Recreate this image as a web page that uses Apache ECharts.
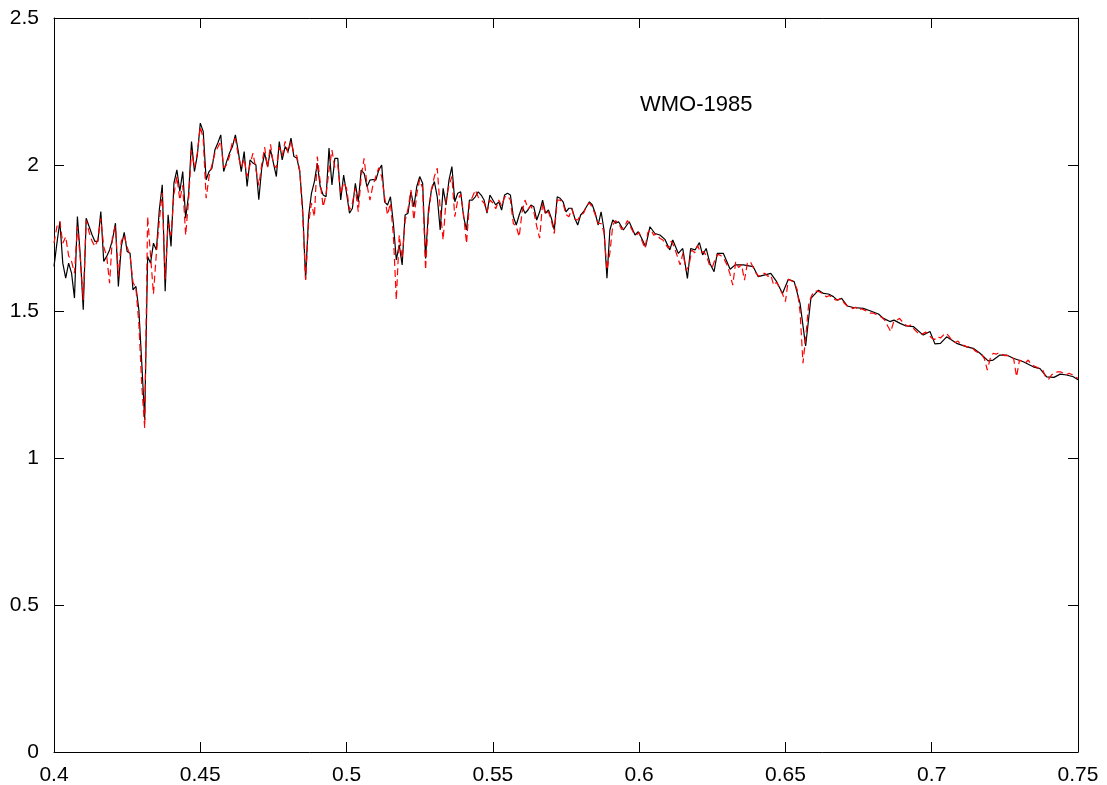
<!DOCTYPE html>
<html>
<head>
<meta charset="utf-8">
<title>WMO-1985</title>
<script src="https://cdn.jsdelivr.net/npm/echarts@6/dist/echarts.min.js"></script>
<style>
  html, body { margin: 0; padding: 0; background: #fff; }
  #chart { width: 1107px; height: 785px; }
</style>
</head>
<body>
<div id="chart"></div>
<script>
// Spectral irradiance, wavelength in nm (plotted in micrometres)

// Solid black spectrum: 1 nm steps from 400 nm to 593 nm
const blackStartNm = 400;
const blackValues = [
  1.654, 1.733, 1.807, 1.665, 1.614, 1.665, 1.631, 1.546, 1.824, 1.688,
  1.506, 1.818, 1.790, 1.762, 1.739, 1.739, 1.841, 1.671, 1.688, 1.710,
  1.745, 1.801, 1.586, 1.722, 1.770, 1.705, 1.699, 1.574, 1.586, 1.506,
  1.324, 1.131, 1.688, 1.665, 1.733, 1.710, 1.847, 1.932, 1.569, 1.830,
  1.722, 1.938, 1.983, 1.909, 1.977, 1.818, 1.898, 2.079, 1.977, 2.034,
  2.142, 2.114, 1.949, 1.977, 1.989, 2.051, 2.074, 2.102, 1.977, 2.011,
  2.040, 2.062, 2.102, 2.045, 1.977, 2.045, 1.926, 2.017, 2.006, 2.000,
  1.881, 1.989, 2.040, 1.994, 2.051, 2.006, 1.960, 2.079, 2.017, 2.062,
  2.045, 2.091, 2.028, 2.023, 1.977, 1.847,
  1.610, 1.823, 1.903, 1.943, 2.005, 1.925, 1.897, 1.891, 2.057, 1.931,
  2.022, 2.022, 1.880, 1.965, 1.903, 1.835, 1.852, 1.937, 1.874, 1.982,
  1.971, 1.925, 1.948, 1.950, 1.948, 1.982, 1.999, 1.874, 1.863, 1.891,
  1.800, 1.676, 1.727, 1.659, 1.829, 1.835, 1.908, 1.857, 1.926, 1.960,
  1.937, 1.681, 1.846, 1.914, 1.943, 1.891, 1.778, 1.920, 1.863, 1.948,
  1.994, 1.874, 1.903, 1.908, 1.823, 1.778, 1.880, 1.880, 1.891, 1.908,
  1.897, 1.880, 1.835, 1.897, 1.880, 1.863, 1.874, 1.846, 1.897, 1.903,
  1.897, 1.823, 1.795, 1.829, 1.857, 1.835, 1.846, 1.863, 1.857, 1.812,
  1.840, 1.880, 1.835, 1.846, 1.818, 1.778, 1.891, 1.886, 1.874, 1.840,
  1.852, 1.852, 1.818, 1.795, 1.829, 1.840, 1.857, 1.874, 1.863, 1.835,
  1.795, 1.840, 1.778, 1.614, 1.778, 1.812, 1.801, 1.806
];

// Solid black spectrum beyond 593 nm (coarser sampling)
const blackTailNm = [
  594.6, 596.6, 598.6, 599.7, 600.9, 602.2, 603.7, 605.4, 607.1, 608.8,
  610.5, 611.5, 613.4, 614.9, 616.5, 617.6, 619.1, 620.6, 621.7, 622.9,
  624.2, 625.6, 626.7, 628.8, 631.1, 632.8, 635.6, 639.0, 640.7, 643.0,
  645.0, 647.0, 649.0, 651.0, 653.0, 655.0, 656.9, 658.7, 661.3, 663.0,
  664.7, 666.4, 667.7, 669.2, 671.2, 673.2, 676.6, 678.9, 681.8, 683.5,
  685.7, 687.1, 689.2, 691.2, 693.7, 697.1, 699.4, 701.1, 703.0, 705.1,
  706.8, 708.5, 712.0, 714.2, 716.5, 719.3, 721.0, 723.3, 725.6, 727.9,
  731.3, 734.7, 737.0, 739.3, 741.8, 743.9, 746.1, 748.4, 750.0
];
const blackTailValues = [
  1.778, 1.806, 1.761, 1.772, 1.749, 1.721, 1.789, 1.766, 1.761, 1.746,
  1.710, 1.744, 1.698, 1.715, 1.613, 1.715, 1.710, 1.735, 1.693, 1.715,
  1.664, 1.636, 1.698, 1.698, 1.644, 1.659, 1.659, 1.653, 1.619, 1.625,
  1.630, 1.602, 1.562, 1.610, 1.602, 1.528, 1.383, 1.545, 1.573, 1.562,
  1.560, 1.551, 1.539, 1.545, 1.519, 1.514, 1.511, 1.503, 1.492, 1.477,
  1.466, 1.471, 1.460, 1.451, 1.449, 1.420, 1.432, 1.390, 1.392, 1.414,
  1.403, 1.392, 1.380, 1.375, 1.358, 1.332, 1.335, 1.352, 1.352, 1.341,
  1.329, 1.312, 1.306, 1.278, 1.276, 1.287, 1.284, 1.278, 1.268
];

// Dashed red spectrum: 1 nm steps from 400 nm to 750 nm
const redStartNm = 400;
const redValues = [
  1.733, 1.790, 1.807, 1.733, 1.755, 1.690, 1.671, 1.631, 1.790, 1.680,
  1.540, 1.810, 1.770, 1.740, 1.722, 1.745, 1.818, 1.720, 1.690, 1.597,
  1.760, 1.790, 1.620, 1.740, 1.760, 1.720, 1.690, 1.600, 1.580, 1.460,
  1.250, 1.103, 1.824, 1.690, 1.560, 1.700, 1.810, 1.905, 1.610, 1.800,
  1.760, 1.900, 1.960, 1.880, 1.930, 1.760, 1.880, 2.050, 1.990, 2.040,
  2.130, 2.090, 1.886, 1.960, 2.000, 2.040, 2.060, 2.080, 1.990, 2.000,
  2.030, 2.080, 2.090, 2.030, 1.990, 2.020, 1.960, 2.000, 2.040, 1.985,
  1.930, 2.000, 2.060, 1.990, 2.070, 2.000, 1.990, 2.060, 2.030, 2.080,
  2.040, 2.080, 2.040, 2.030, 1.980, 1.830,
  1.608, 1.800, 1.870, 1.823, 2.028, 1.940, 1.857, 1.900, 1.980, 2.050,
  1.990, 2.000, 1.900, 1.940, 1.920, 1.846, 1.870, 1.920, 1.840, 1.960,
  2.022, 1.930, 1.880, 1.930, 1.960, 1.990, 1.960, 1.890, 1.829, 1.870,
  1.760, 1.539, 1.760, 1.680, 1.810, 1.850, 1.914, 1.812, 1.900, 1.950,
  1.920, 1.642, 1.830, 1.914, 1.960, 1.988, 1.850, 1.744, 1.880, 1.930,
  1.960, 1.823, 1.880, 1.900, 1.830, 1.732, 1.870, 1.890, 1.914, 1.890,
  1.880, 1.870, 1.840, 1.880, 1.870, 1.850, 1.880, 1.860, 1.890, 1.895,
  1.880, 1.800, 1.790, 1.755, 1.840, 1.880, 1.850, 1.860, 1.840, 1.790,
  1.750, 1.870, 1.830, 1.840, 1.810, 1.766, 1.880, 1.880, 1.870, 1.830,
  1.823, 1.850, 1.815, 1.812, 1.830, 1.835, 1.860, 1.870, 1.855, 1.830,
  1.800, 1.800, 1.770, 1.642, 1.700, 1.795, 1.810, 1.800,
  1.780, 1.790, 1.810, 1.790, 1.770, 1.760, 1.770, 1.740, 1.715, 1.770,
  1.780, 1.760, 1.765, 1.750, 1.745, 1.730, 1.715, 1.740, 1.720, 1.690,
  1.659, 1.700, 1.640, 1.655, 1.710, 1.700, 1.725, 1.700, 1.705, 1.690,
  1.660, 1.650, 1.680, 1.695, 1.690, 1.680, 1.660, 1.630, 1.590, 1.670,
  1.650, 1.660, 1.607, 1.665, 1.670, 1.650, 1.630, 1.620, 1.630, 1.630,
  1.620, 1.625, 1.590, 1.600, 1.580, 1.560, 1.534, 1.610, 1.605, 1.600,
  1.575, 1.500, 1.324, 1.420, 1.530, 1.555, 1.570, 1.570, 1.565, 1.560,
  1.550, 1.555, 1.548, 1.540, 1.540, 1.545, 1.530, 1.520, 1.520, 1.510,
  1.515, 1.505, 1.510, 1.505, 1.500, 1.495, 1.495, 1.490, 1.485, 1.480,
  1.470, 1.450, 1.432, 1.465, 1.470, 1.477, 1.465, 1.455, 1.450, 1.455,
  1.440, 1.430, 1.420, 1.425, 1.430, 1.420, 1.410, 1.405, 1.415, 1.410,
  1.420, 1.426, 1.415, 1.400, 1.395, 1.400, 1.385, 1.385, 1.380, 1.380,
  1.375, 1.365, 1.360, 1.355, 1.340, 1.301, 1.340, 1.358, 1.355, 1.360,
  1.355, 1.350, 1.350, 1.345, 1.340, 1.278, 1.335, 1.330, 1.325, 1.335,
  1.320, 1.315, 1.310, 1.305, 1.300, 1.275, 1.270, 1.285, 1.290, 1.295,
  1.295, 1.290, 1.285, 1.290, 1.285, 1.280, 1.272
];

const annotationText = 'WMO-1985';

// Build [wavelength in micrometres, value] pairs
const blackData = blackValues.map((v, i) => [(blackStartNm + i) / 1000, v])
  .concat(blackTailNm.map((nm, i) => [nm / 1000, blackTailValues[i]]));
const redData = redValues.map((v, i) => [(redStartNm + i) / 1000, v]);

const FONT = 'Liberation Sans, Arial, sans-serif';

function axisBase(min, max, interval, position, showLabels, margin) {
  return {
    type: 'value',
    min: min, max: max, interval: interval,
    position: position,
    axisLine: { show: true, onZero: false, lineStyle: { color: '#000', width: 1 } },
    axisTick: { show: true, inside: true, length: 10, lineStyle: { color: '#000', width: 1 } },
    axisLabel: { show: showLabels, color: '#000', fontSize: 21, fontFamily: FONT, margin: margin },
    splitLine: { show: false }
  };
}

const chart = echarts.init(document.getElementById('chart'), null, { renderer: 'canvas' });
chart.setOption({
  animation: false,
  backgroundColor: '#fff',
  grid: {
    left: 54, right: 29, top: 18, bottom: 33, show: false,
    containLabel: false, outerBoundsMode: 'none'
  },
  xAxis: [
    axisBase(0.4, 0.75, 0.05, 'bottom', true, 13),
    axisBase(0.4, 0.75, 0.05, 'top', false, 8)
  ],
  yAxis: [
    axisBase(0, 2.5, 0.5, 'left', true, 15),
    axisBase(0, 2.5, 0.5, 'right', false, 8)
  ],
  series: [
    {
      type: 'line', xAxisIndex: 0, yAxisIndex: 0,
      data: blackData, showSymbol: false, smooth: false,
      lineStyle: { color: '#000', width: 1.2 }
    },
    {
      type: 'line', xAxisIndex: 0, yAxisIndex: 0,
      data: redData, showSymbol: false, smooth: false,
      lineStyle: { color: '#ff0000', width: 1.2, type: [7, 4] }
    }
  ],
  graphic: [
    {
      type: 'text', left: 640, top: 94,
      style: { text: annotationText, fill: '#000', font: '22px ' + FONT }
    }
  ]
});
</script>
</body>
</html>
